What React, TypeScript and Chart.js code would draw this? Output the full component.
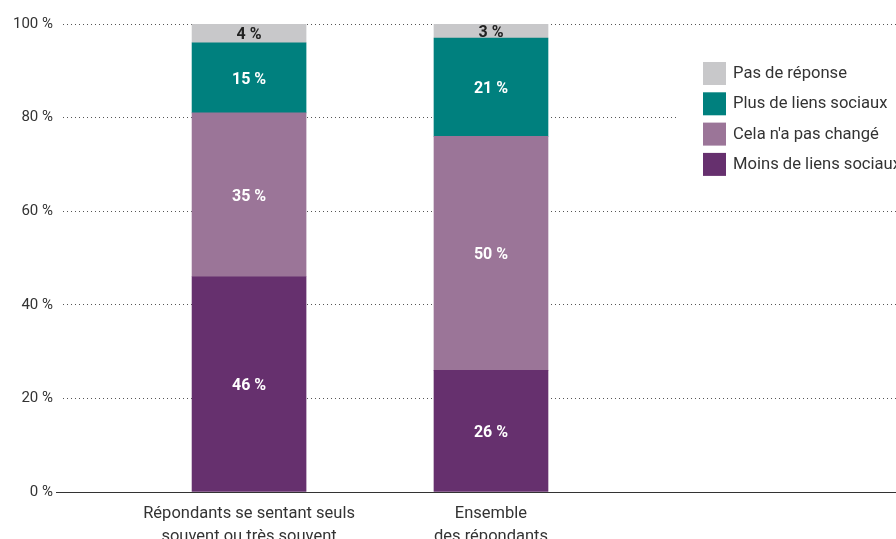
import React, { useEffect, useRef } from "react";
import { Chart, registerables } from "chart.js";

Chart.register(...registerables);

const CATEGORY_LABELS: string[][] = [
  ["Répondants se sentant seuls", "souvent ou très souvent"],
  ["Ensemble", "des répondants"],
];
const SERIES_NAMES = [
  "Moins de liens sociaux",
  "Cela n'a pas changé",
  "Plus de liens sociaux",
  "Pas de réponse",
];
const SERIES_COLORS = ["#66306e", "#9b7598", "#00807e", "#c8c8ca"];
const MOINS = [46, 26];
const CELA = [35, 50];
const PLUS = [15, 21];
const PAS = [4, 3];
const Y_TICKS = [0, 20, 40, 60, 80, 100];

const FONT = "Roboto";
const TEXT = "#333333";

const zeroLinePlugin = {
  id: "zeroLine",
  beforeDatasetsDraw(chart: any) {
    const { ctx, chartArea, scales } = chart;
    const y = Math.round(scales.y.getPixelForValue(0)) + 0.5;
    ctx.save();
    ctx.strokeStyle = "#333";
    ctx.lineWidth = 1;
    ctx.beginPath();
    ctx.moveTo(chartArea.left - 7, y);
    ctx.lineTo(chartArea.right, y);
    ctx.stroke();
    ctx.restore();
  },
};

const barLabelPlugin = {
  id: "barLabels",
  afterDatasetsDraw(chart: any) {
    const { ctx } = chart;
    ctx.save();
    ctx.font = `bold 16px ${FONT}`;
    ctx.textAlign = "center";
    ctx.textBaseline = "middle";
    chart.data.datasets.forEach((ds: any, di: number) => {
      const meta = chart.getDatasetMeta(di);
      meta.data.forEach((el: any, i: number) => {
        const v = ds.data[i].y;
        ctx.fillStyle = di === 3 ? "#222" : "#ffffff";
        ctx.fillText(`${v} %`, el.x, (el.y + el.base) / 2 + 2);
      });
    });
    ctx.restore();
  },
};

const legendPlugin = {
  id: "customLegend",
  afterDraw(chart: any) {
    const { ctx } = chart;
    ctx.save();
    ctx.fillStyle = "#ffffff";
    ctx.fillRect(677, 52, 219, 134);
    ctx.font = `16.6px ${FONT}`;
    ctx.textBaseline = "middle";
    ctx.textAlign = "left";
    const n = chart.data.datasets.length;
    for (let k = 0; k < n; k++) {
      const ds = chart.data.datasets[n - 1 - k];
      const top = 62 + k * 30.3;
      ctx.fillStyle = ds.backgroundColor;
      ctx.fillRect(703, top, 23, 23);
      ctx.fillStyle = TEXT;
      ctx.fillText(ds.label, 733, top + 12);
    }
    ctx.restore();
  },
};

export default function App() {
  const ref = useRef<HTMLCanvasElement>(null);
  useEffect(() => {
    if (!ref.current) return;
    const series = [MOINS, CELA, PLUS, PAS];
    const chart = new Chart(ref.current, {
      type: "bar",
      data: {
        datasets: series.map((vals, si) => ({
          label: SERIES_NAMES[si],
          data: vals.map((v, i) => ({ x: i, y: v })),
          backgroundColor: SERIES_COLORS[si],
          borderWidth: 0,
          barThickness: 114,
        })),
      },
      options: {
        responsive: false,
        animation: false,
        layout: { padding: { top: 24, left: 0, right: 0, bottom: 0 } },
        plugins: {
          legend: { display: false },
          tooltip: { enabled: false },
        },
        scales: {
          x: {
            type: "linear",
            stacked: true,
            offset: false,
            min: -0.769,
            max: 2.674,
            grid: { display: false, offset: false },
            border: { display: false },
            afterBuildTicks: (scale: any) => {
              scale.ticks = CATEGORY_LABELS.map((_, i) => ({ value: i }));
            },
            afterFit: (scale: any) => {
              scale.height = 47;
            },
            ticks: {
              autoSkip: false,
              maxRotation: 0,
              padding: 2,
              color: TEXT,
              font: { family: FONT, size: 16.5, lineHeight: 1.4 },
              callback: (value: any) => CATEGORY_LABELS[Math.round(Number(value))] ?? "",
            },
          },
          y: {
            stacked: true,
            min: 0,
            max: 100,
            afterBuildTicks: (scale: any) => {
              scale.ticks = Y_TICKS.map((v) => ({ value: v }));
            },
            afterFit: (scale: any) => {
              scale.width = 63;
            },
            grid: {
              drawTicks: false,
              color: (ctx: any) => (ctx.tick && ctx.tick.value === 0 ? "rgba(0,0,0,0)" : "#555555"),
              lineWidth: 1,
            },
            border: { display: false, dash: [1, 3] },
            ticks: {
              padding: 10,
              color: TEXT,
              font: { family: FONT, size: 15 },
              callback: (v: any) => `${v} %`,
            },
          },
        },
      },
      plugins: [zeroLinePlugin, barLabelPlugin, legendPlugin],
    } as any);
    return () => chart.destroy();
  }, []);
  return (
    <div style={{ position: "absolute", left: 0, top: 0, width: 896, height: 539, background: "#fff" }}>
      <canvas ref={ref} width={896} height={539} />
    </div>
  );
}
